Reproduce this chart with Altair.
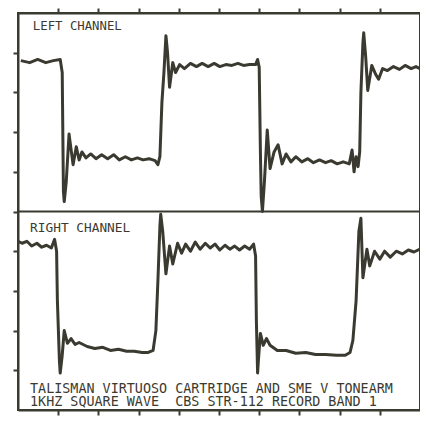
import altair as alt
import pandas as pd

# Oscilloscope-style traces, time and level in screen divisions (0..10)
left_t = [0.07, 0.29, 0.49, 0.69, 0.88, 1.05, 1.10, 1.13, 1.15, 1.20, 1.27, 1.37, 1.45, 1.52, 1.59,
          1.69, 1.81, 1.94, 2.08, 2.23, 2.38, 2.52, 2.67, 2.82, 2.97, 3.11, 3.26, 3.41, 3.48, 3.53,
          3.58, 3.63, 3.68, 3.72, 3.77, 3.85, 3.92, 4.02, 4.14, 4.29, 4.44, 4.58, 4.73, 4.88, 5.02,
          5.17, 5.32, 5.47, 5.61, 5.76, 5.91, 5.96, 6.00, 6.03, 6.05, 6.08, 6.13, 6.20, 6.27, 6.37,
          6.47, 6.57, 6.67, 6.79, 6.91, 7.06, 7.21, 7.35, 7.50, 7.65, 7.79, 7.94, 8.09, 8.24, 8.31,
          8.36, 8.41, 8.46, 8.50, 8.53, 8.58, 8.60, 8.65, 8.70, 8.80, 8.90, 8.97, 9.07, 9.19, 9.34,
          9.49, 9.63, 9.78, 9.90, 10.0]
left_v = [8.80, 8.75, 8.83, 8.75, 8.80, 8.83, 8.50, 5.50, 5.25, 5.75, 6.95, 6.18, 6.63, 6.30, 6.50,
          6.35, 6.45, 6.33, 6.43, 6.33, 6.43, 6.30, 6.38, 6.30, 6.35, 6.30, 6.33, 6.28, 6.18, 6.38,
          7.75, 8.50, 9.43, 9.00, 8.13, 8.75, 8.50, 8.70, 8.60, 8.73, 8.65, 8.73, 8.65, 8.73, 8.65,
          8.70, 8.68, 8.73, 8.68, 8.70, 8.70, 8.83, 8.63, 6.50, 5.38, 5.00, 5.75, 7.05, 6.08, 6.50,
          6.68, 6.20, 6.45, 6.25, 6.38, 6.25, 6.33, 6.23, 6.30, 6.23, 6.28, 6.20, 6.25, 6.20, 6.55,
          6.00, 6.38, 6.13, 6.50, 8.00, 9.25, 9.50, 8.88, 8.05, 8.68, 8.45, 8.33, 8.60, 8.55, 8.65,
          8.58, 8.68, 8.60, 8.65, 8.60]

right_t = [0.00, 0.10, 0.22, 0.34, 0.47, 0.59, 0.71, 0.83, 0.91, 0.96, 0.98, 1.03, 1.05, 1.10, 1.15,
           1.23, 1.32, 1.42, 1.52, 1.72, 1.91, 2.11, 2.30, 2.50, 2.70, 2.89, 3.09, 3.24, 3.36, 3.43,
           3.48, 3.53, 3.55, 3.60, 3.68, 3.77, 3.85, 3.97, 4.07, 4.17, 4.29, 4.41, 4.53, 4.66, 4.78,
           4.90, 5.02, 5.15, 5.27, 5.39, 5.51, 5.64, 5.76, 5.86, 5.91, 5.93, 5.96, 5.98, 6.03, 6.10,
           6.18, 6.27, 6.45, 6.67, 6.91, 7.16, 7.40, 7.65, 7.92, 8.14, 8.26, 8.33, 8.41, 8.48, 8.53,
           8.58, 8.68, 8.75, 8.87, 9.00, 9.12, 9.26, 9.41, 9.56, 9.71, 9.85, 10.0]
right_v = [4.25, 4.20, 4.25, 4.13, 4.20, 4.10, 4.15, 4.08, 4.30, 4.00, 2.75, 1.25, 0.93, 1.38, 2.00,
           1.68, 1.80, 1.65, 1.70, 1.60, 1.55, 1.58, 1.50, 1.53, 1.48, 1.48, 1.45, 1.45, 1.50, 2.00,
           3.25, 4.63, 4.93, 4.50, 3.43, 4.13, 3.68, 4.20, 3.95, 4.18, 4.00, 4.23, 4.05, 4.20, 4.08,
           4.18, 4.03, 4.15, 4.05, 4.13, 4.03, 4.13, 4.05, 4.18, 3.88, 2.25, 0.93, 1.25, 1.93, 1.63,
           1.80, 1.63, 1.50, 1.50, 1.43, 1.45, 1.40, 1.40, 1.38, 1.38, 1.45, 1.75, 2.75, 4.50, 4.83,
           3.33, 4.05, 3.63, 4.00, 3.80, 4.00, 3.85, 4.00, 3.93, 4.03, 3.98, 4.05]

tick_values = [1, 2, 3, 4, 5, 6, 7, 8, 9]
channel_labels = ["LEFT CHANNEL", "RIGHT CHANNEL"]
caption_lines = ["TALISMAN VIRTUOSO CARTRIDGE AND SME V TONEARM",
                 "1KHZ SQUARE WAVE \u00a0CBS STR-112 RECORD BAND 1"]

INK = "#3b3a30"
FONT = "DejaVu Sans Mono, Liberation Mono, monospace"

xs = alt.Scale(domain=[0, 10], nice=False, zero=False)
ys = alt.Scale(domain=[0, 10], nice=False, zero=False)
ax = dict(labels=False, grid=False, title=None, values=tick_values, tickSize=5, tickWidth=2,
          tickColor=INK, domainColor=INK, domainWidth=2)

left_df = pd.DataFrame({"t": left_t, "v": left_v})
right_df = pd.DataFrame({"t": right_t, "v": right_v})

left_line = alt.Chart(left_df).mark_line(color=INK, strokeWidth=3, strokeJoin="round").encode(
    x=alt.X("t:Q", scale=xs, axis=alt.Axis(orient="bottom", **ax)),
    y=alt.Y("v:Q", scale=ys, axis=alt.Axis(orient="left", **ax)),
)
right_line = alt.Chart(right_df).mark_line(color=INK, strokeWidth=3, strokeJoin="round").encode(
    x=alt.X("t:Q", scale=xs, axis=alt.Axis(orient="top", **ax)),
    y=alt.Y("v:Q", scale=ys, axis=alt.Axis(orient="right", **ax)),
)

divider = alt.Chart(pd.DataFrame({"d": [0]})).mark_rule(color=INK, strokeWidth=2).encode(
    y=alt.Y(datum=5, scale=ys, axis=None)
)


def label(text, x, y, size):
    return alt.Chart(pd.DataFrame({"label": [text]})).mark_text(
        align="left", baseline="middle", font=FONT, fontSize=size, color=INK
    ).encode(
        x=alt.X(datum=x, scale=xs, axis=None),
        y=alt.Y(datum=y, scale=ys, axis=None),
        text="label:N",
    )


layers = [
    divider,
    left_line,
    right_line,
    label(channel_labels[0], 0.37, 9.67, 12.3),
    label(channel_labels[1], 0.30, 4.58, 12.8),
    label(caption_lines[0], 0.30, 0.54, 13.4),
    label(caption_lines[1], 0.30, 0.19, 13.4),
]

chart = alt.layer(*layers).resolve_scale(x="independent", y="independent").properties(
    width=402, height=397, autosize="none",
    padding={"left": 10, "top": 5, "right": 0, "bottom": 6},
    background="white",
).configure_view(stroke=INK, strokeWidth=2)

chart.save("out.html", embed_options={"renderer": "svg", "actions": False})
